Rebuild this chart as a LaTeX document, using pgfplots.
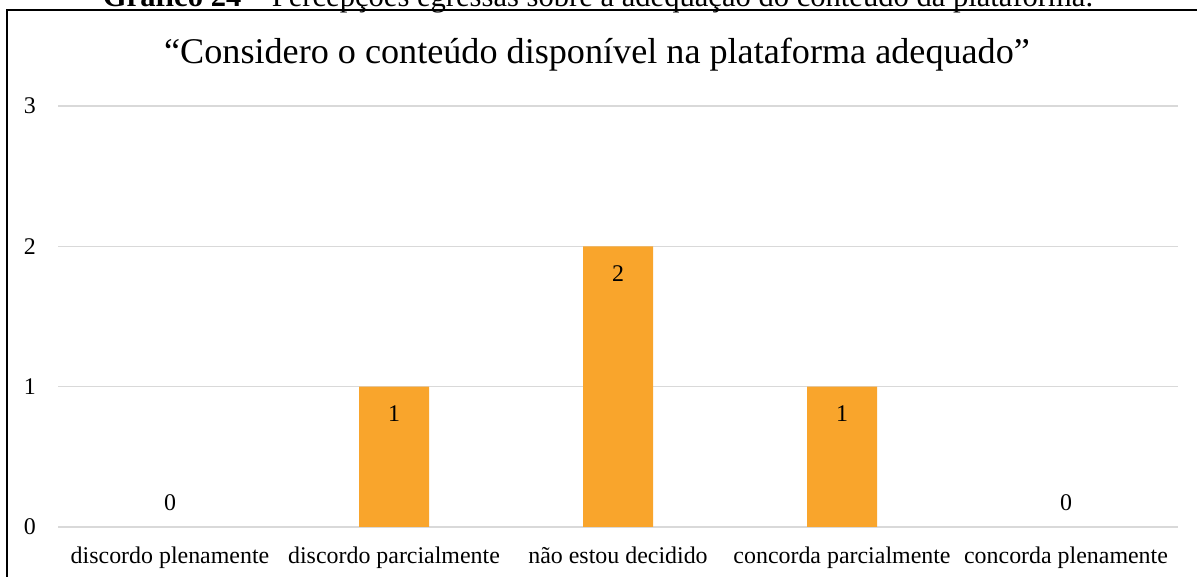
\documentclass[border=0pt]{standalone}
\usepackage{pgfplots}
\pgfplotsset{compat=1.18}
\usepackage{fontspec}
\setmainfont{Liberation Serif}
\definecolor{barc}{HTML}{F9A52C}
\definecolor{gridc}{HTML}{D9D9D9}
\begin{document}
\begin{tikzpicture}[x=1bp,y=1bp]
\clip (0,0) rectangle (1197,577);
\node[anchor=base, inner sep=0pt, font=\fontsize{30.7}{34}\selectfont] at (598,570.5) {\textbf{Gráfico 24} – Percepções egressas sobre a adequação do conteúdo da plataforma.};
\draw[line width=2.3bp] (7,-10) -- (7,567) -- (1220,567);
\node[anchor=base, inner sep=0pt, font=\fontsize{36.3}{40}\selectfont] at (597,513) {“Considero o conteúdo disponível na plataforma adequado”};
\begin{axis}[
  at={(58bp,50bp)}, anchor=south west,
  scale only axis, width=1120bp, height=421bp,
  xmin=-0.5, xmax=4.5, ymin=0, ymax=3,
  ytick={0,1,2,3}, xtick={0,1,2,3,4},
  xticklabels={discordo plenamente, discordo parcialmente, não estou decidido, concorda parcialmente, concorda plenamente},
  axis line style={draw=none}, major tick length=0pt,
  ymajorgrids, grid style={gridc, line width=1.5bp},
  /pgf/number format/assume math mode=true,
  tick label style={font=\fontsize{24}{28}\selectfont},
  yticklabel style={anchor=east, inner sep=0pt, xshift=-22bp},
  xticklabel style={anchor=base, inner sep=0pt, yshift=-37bp},
  clip=false,
]
\addplot[ybar, bar width=70bp, bar shift=0pt, fill=barc, draw=none,
  nodes near coords, nodes near coords align=below,
  every node near coord/.append style={inner sep=0pt, yshift=-19bp, font=\fontsize{24}{28}\selectfont, text=black}]
  coordinates {(1,1) (2,2) (3,1)};
\addplot[ybar, bar width=70bp, bar shift=0pt, fill=none, draw=none,
  nodes near coords, nodes near coords align=above,
  every node near coord/.append style={inner sep=0pt, yshift=16bp, font=\fontsize{24}{28}\selectfont, text=black}]
  coordinates {(0,0) (4,0)};
\end{axis}
\end{tikzpicture}
\end{document}
